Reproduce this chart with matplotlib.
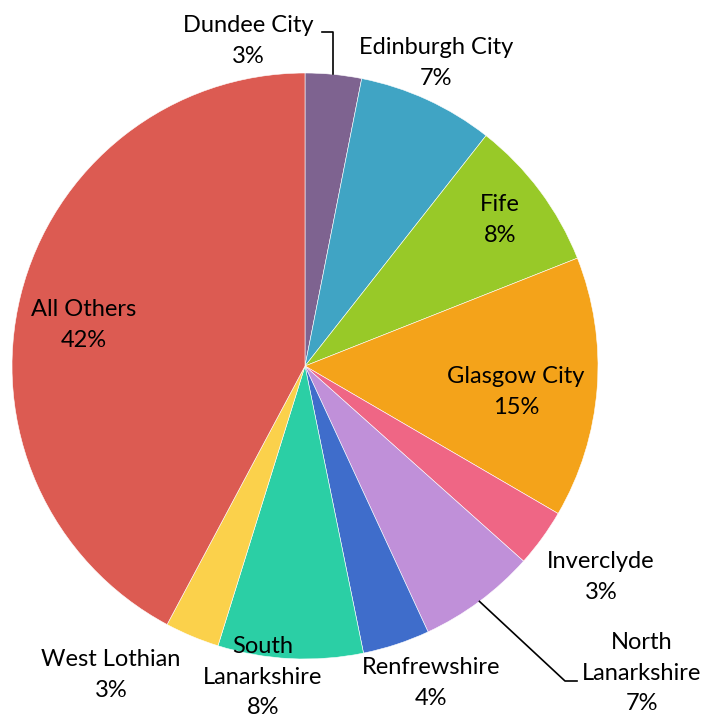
import matplotlib
matplotlib.use("Agg")
import matplotlib.pyplot as plt
import numpy as np

plt.rcParams['font.family'] = ['Lato', 'DejaVu Sans']

# slice data, clockwise from 12 o'clock
regions = ['Dundee City', 'Edinburgh City', 'Fife', 'Glasgow City', 'Inverclyde',
           'North Lanarkshire', 'Renfrewshire', 'South Lanarkshire', 'West Lothian', 'All Others']
shares = [3.1, 7.5, 8.4, 14.4, 3.2, 6.5, 3.7, 8.0, 3.0, 42.2]
pct_labels = ['3%', '7%', '8%', '15%', '3%', '7%', '4%', '8%', '3%', '42%']
label_text = ['Dundee City', 'Edinburgh City', 'Fife', 'Glasgow City', 'Inverclyde',
              'North\nLanarkshire', 'Renfrewshire', 'South\nLanarkshire', 'West Lothian', 'All Others']
colors = ['#7E6390', '#40A4C4', '#98C928', '#F4A31A', '#EF6685',
          '#C090D9', '#3F6DCB', '#2BCFA5', '#FBD14B', '#DC5B52']

# label centres in pixels (layout)
label_px = [(248, 41), (436, 63), (500, 220), (516, 392), (601, 577),
            (642, 673), (431, 683), (263, 677), (111, 675), (84, 325)]

W, H = 704, 718
CX, CY, R = 305, 366, 293

fig = plt.figure(figsize=(W / 100, H / 100), dpi=100)
ax = fig.add_axes([(CX - R) / W, (H - CY - R) / H, 2 * R / W, 2 * R / H])

wedges, _ = ax.pie(shares, colors=colors, startangle=90, counterclock=False,
                   wedgeprops=dict(edgecolor='white', linewidth=0.4))
ax.set_xlim(-1, 1)
ax.set_ylim(-1, 1)
ax.set_aspect('equal')
ax.axis('off')


def to_data(px, py):
    return (px - CX) / R, (CY - py) / R


for name, pct, (px, py) in zip(label_text, pct_labels, label_px):
    x, y = to_data(px, py)
    ax.text(x, y, name + '\n' + pct, ha='center', va='center', fontsize=17,
            linespacing=1.56, color='black', clip_on=False)

# leader lines from wedge mid-points
def wedge_mid(w):
    ang = np.deg2rad((w.theta1 + w.theta2) / 2)
    return np.cos(ang), np.sin(ang)

x0, y0 = wedge_mid(wedges[0])
xa, ya = to_data(322, 32)
ax.plot([x0, x0, xa], [y0, ya, ya], color='black', lw=1.2, clip_on=False)

x0, y0 = wedge_mid(wedges[5])
xb, yb = to_data(565, 681)
xc, _ = to_data(577, 681)
ax.plot([x0, xb, xc], [y0, yb, yb], color='black', lw=1.2, clip_on=False)

fig.savefig('out.png', dpi=100)
